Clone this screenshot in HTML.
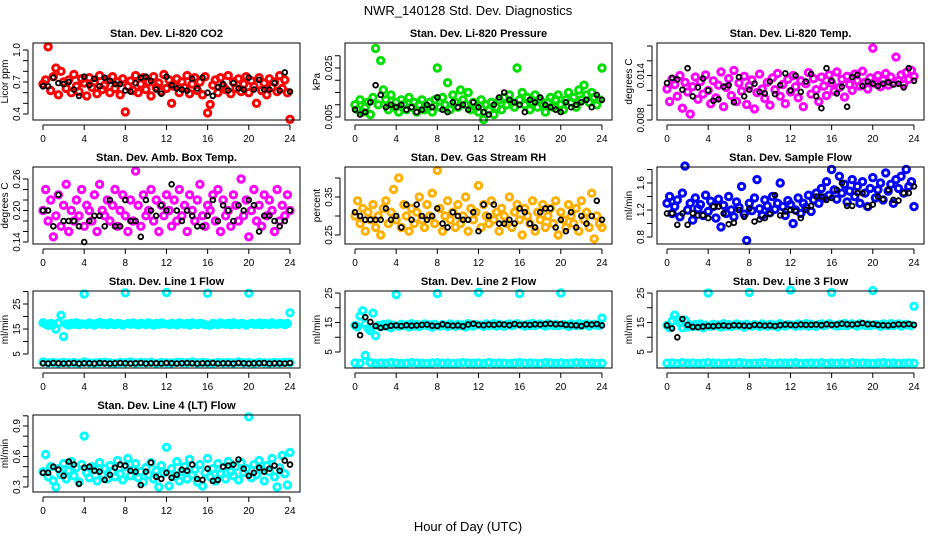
<!DOCTYPE html>
<html><head><meta charset="utf-8"><style>
body{margin:0;background:#fff}
svg{display:block;font-family:"Liberation Sans",sans-serif}
</style></head><body>
<svg id="c" width="936" height="540" viewBox="0 0 936 540">
<text x="468" y="15" text-anchor="middle" font-size="13">NWR_140128 Std. Dev. Diagnostics</text>
<text x="468" y="531" text-anchor="middle" font-size="13">Hour of Day (UTC)</text>
</svg>
<script>
const hourTicks=[0,4,8,12,16,20,24];
const r1=[0.68,0.72,1.03,0.62,0.75,0.83,0.58,0.80,0.70,0.64,0.72,0.60,0.77,0.66,0.61,0.73,0.69,0.57,0.74,0.65,0.70,0.59,0.76,0.63,0.67,0.72,0.60,0.75,0.64,0.70,0.58,0.73,0.42,0.66,0.71,0.62,0.76,0.60,0.68,0.74,0.63,0.70,0.57,0.75,0.65,0.69,0.61,0.77,0.64,0.72,0.50,0.66,0.73,0.60,0.70,0.65,0.76,0.59,0.68,0.74,0.62,0.70,0.58,0.75,0.41,0.49,0.67,0.72,0.60,0.74,0.66,0.63,0.76,0.59,0.70,0.64,0.73,0.61,0.68,0.75,0.60,0.71,0.66,0.50,0.74,0.62,0.69,0.58,0.73,0.65,0.70,0.61,0.76,0.64,0.72,0.60,0.35];
const k1=[0.66,0.66,0.74,0.69,0.68,0.70,0.63,0.57,0.75,0.67,0.73,0.66,0.74,0.71,0.68,0.68,0.62,0.61,0.69,0.74,0.75,0.71,0.63,0.59,0.75,0.67,0.64,0.63,0.62,0.73,0.64,0.74,0.60,0.57,0.65,0.68,0.62,0.69,0.64,0.63,0.74,0.63,0.72,0.63,0.63,0.69,0.62,0.79,0.61];
const g2=[0.010,0.008,0.012,0.007,0.009,0.011,0.006,0.013,0.033,0.010,0.028,0.016,0.012,0.008,0.014,0.009,0.011,0.007,0.012,0.010,0.008,0.013,0.009,0.011,0.007,0.010,0.012,0.008,0.009,0.011,0.007,0.012,0.025,0.009,0.013,0.010,0.019,0.008,0.014,0.011,0.009,0.016,0.012,0.010,0.015,0.008,0.011,0.009,0.007,0.012,0.004,0.010,0.008,0.011,0.006,0.009,0.012,0.008,0.013,0.010,0.014,0.011,0.009,0.025,0.012,0.015,0.010,0.013,0.008,0.011,0.014,0.009,0.012,0.010,0.007,0.011,0.013,0.009,0.012,0.014,0.010,0.008,0.012,0.015,0.011,0.013,0.009,0.016,0.012,0.018,0.014,0.011,0.015,0.013,0.010,0.012,0.025];
const k2=[0.008,0.006,0.007,0.011,0.018,0.014,0.009,0.010,0.009,0.010,0.008,0.009,0.007,0.008,0.010,0.009,0.013,0.008,0.007,0.011,0.009,0.010,0.008,0.011,0.009,0.007,0.006,0.010,0.013,0.015,0.012,0.011,0.010,0.007,0.012,0.011,0.013,0.010,0.009,0.008,0.007,0.011,0.009,0.010,0.011,0.012,0.009,0.014,0.012];
const m3=[0.0122,0.0105,0.0135,0.0128,0.0112,0.0140,0.0096,0.0131,0.0118,0.0088,0.0125,0.0138,0.0108,0.0132,0.0115,0.0141,0.0120,0.0102,0.0133,0.0110,0.0127,0.0145,0.0098,0.0124,0.0136,0.0113,0.0147,0.0105,0.0130,0.0119,0.0139,0.0101,0.0126,0.0134,0.0095,0.0117,0.0142,0.0122,0.0109,0.0131,0.0100,0.0137,0.0121,0.0143,0.0112,0.0128,0.0102,0.0135,0.0118,0.0140,0.0125,0.0110,0.0133,0.0098,0.0129,0.0144,0.0115,0.0136,0.0121,0.0105,0.0138,0.0126,0.0113,0.0141,0.0130,0.0119,0.0145,0.0124,0.0135,0.0111,0.0139,0.0128,0.0120,0.0142,0.0133,0.0126,0.0146,0.0131,0.0122,0.0137,0.0177,0.0129,0.0140,0.0125,0.0134,0.0143,0.0127,0.0138,0.0130,0.0165,0.0133,0.0141,0.0128,0.0144,0.0135,0.0147,0.0139];
const k3=[0.0130,0.0137,0.0135,0.0121,0.0150,0.0112,0.0124,0.0136,0.0120,0.0106,0.0108,0.0125,0.0127,0.0104,0.0138,0.0112,0.0121,0.0129,0.0118,0.0116,0.0132,0.0115,0.0127,0.0143,0.0120,0.0140,0.0118,0.0132,0.0142,0.0112,0.0096,0.0150,0.0133,0.0116,0.0125,0.0098,0.0138,0.0141,0.0126,0.0132,0.0129,0.0126,0.0129,0.0131,0.0128,0.0129,0.0124,0.0150,0.0133];
const m4=[0.20,0.24,0.18,0.22,0.15,0.19,0.23,0.17,0.21,0.25,0.16,0.20,0.18,0.22,0.19,0.24,0.17,0.21,0.20,0.18,0.23,0.16,0.25,0.20,0.19,0.22,0.18,0.21,0.24,0.17,0.20,0.23,0.19,0.16,0.22,0.18,0.275,0.21,0.17,0.23,0.19,0.20,0.24,0.18,0.22,0.16,0.21,0.19,0.23,0.20,0.17,0.22,0.18,0.24,0.19,0.21,0.16,0.23,0.20,0.18,0.22,0.25,0.19,0.17,0.21,0.20,0.23,0.18,0.24,0.16,0.22,0.19,0.20,0.17,0.23,0.21,0.18,0.26,0.19,0.22,0.15,0.20,0.24,0.18,0.21,0.17,0.23,0.19,0.22,0.20,0.16,0.24,0.18,0.21,0.19,0.23,0.20];
const k4=[0.20,0.20,0.17,0.23,0.18,0.18,0.18,0.17,0.14,0.18,0.19,0.19,0.17,0.22,0.17,0.17,0.22,0.18,0.18,0.15,0.22,0.20,0.19,0.21,0.20,0.25,0.20,0.18,0.20,0.19,0.17,0.17,0.19,0.22,0.18,0.21,0.20,0.18,0.21,0.20,0.22,0.21,0.16,0.19,0.19,0.18,0.17,0.18,0.20];
const o5=[0.30,0.34,0.28,0.32,0.26,0.31,0.29,0.33,0.27,0.30,0.25,0.32,0.34,0.28,0.31,0.37,0.29,0.40,0.27,0.33,0.30,0.26,0.32,0.28,0.31,0.35,0.29,0.27,0.33,0.30,0.36,0.28,0.42,0.32,0.26,0.30,0.34,0.29,0.31,0.27,0.33,0.28,0.30,0.35,0.26,0.32,0.29,0.31,0.38,0.27,0.33,0.30,0.28,0.34,0.29,0.31,0.26,0.32,0.30,0.28,0.35,0.27,0.31,0.33,0.29,0.25,0.32,0.30,0.28,0.34,0.26,0.31,0.29,0.33,0.27,0.30,0.32,0.28,0.34,0.25,0.31,0.29,0.27,0.33,0.30,0.28,0.32,0.26,0.34,0.29,0.31,0.27,0.36,0.24,0.30,0.28,0.27];
const k5=[0.31,0.30,0.29,0.29,0.29,0.29,0.32,0.29,0.30,0.27,0.33,0.29,0.33,0.30,0.29,0.30,0.32,0.28,0.27,0.31,0.30,0.29,0.29,0.31,0.26,0.33,0.30,0.33,0.28,0.28,0.29,0.28,0.32,0.31,0.28,0.27,0.31,0.32,0.32,0.27,0.29,0.26,0.31,0.27,0.30,0.28,0.30,0.34,0.29];
const b6=[1.30,1.40,1.15,1.25,1.35,1.10,1.45,1.85,1.20,1.30,1.05,1.38,1.22,1.28,1.12,1.42,1.18,1.33,1.25,1.08,1.36,0.95,1.27,1.15,1.40,1.20,1.10,1.32,1.24,1.55,1.14,0.75,1.30,1.19,1.38,1.65,1.22,1.12,1.35,1.26,1.16,1.40,1.21,1.30,1.60,1.25,1.12,1.34,1.28,1.00,1.20,1.38,1.15,1.30,1.24,1.42,1.18,1.35,1.45,1.30,1.52,1.38,1.62,1.42,1.80,1.50,1.36,1.70,1.45,1.58,1.32,1.48,1.65,1.40,1.55,1.30,1.62,1.45,1.25,1.52,1.68,1.38,1.50,1.60,1.35,1.75,1.48,1.58,1.30,1.65,1.52,1.70,1.45,1.80,1.55,1.62,1.25];
const k6=[1.15,1.15,0.98,1.15,0.98,1.15,1.12,1.12,1.08,1.25,1.25,1.15,0.99,1.01,1.20,1.10,1.22,1.03,1.06,1.08,1.14,1.42,1.12,1.18,1.20,1.18,1.08,1.20,1.26,1.40,1.40,1.35,1.38,1.50,1.60,1.26,1.26,1.45,1.45,1.25,1.28,1.40,1.36,1.50,1.35,1.34,1.45,1.45,1.55];
const c7=[17.5,17,16.5,17.2,16.8,15,17.4,20.5,12,17,16.6,17.3,16.9,17.5,16.7,17.1,29,16.8,17.4,17,16.6,17.3,17.6,16.9,17.2,16.7,17.5,17,16.8,17.3,17.1,16.6,29.5,17.2,16.9,17.4,17,16.7,17.3,17.1,16.8,17.5,17,16.6,17.2,16.9,17.4,17.1,29.6,16.8,17.3,17,16.7,17.5,17.1,16.9,17.2,16.6,17.4,17,16.8,17.3,17.1,16.7,29.3,16.5,17.2,17,16.8,17.4,17.1,16.9,17.3,16.7,17.5,17,16.8,17.2,17.1,16.6,29.3,17.3,17,16.9,17.4,16.7,17.2,17.1,16.8,17.5,17,16.9,17.3,17.1,16.8,17.2,21.5];
const cl7=[1.8,1.5,1.6,1.4,1.7,1.5,1.6,1.3,1.8,1.5,1.4,1.6,1.7,1.5,1.3,1.6,1.5,1.8,1.4,1.6,1.5,1.7,1.3,1.6,1.5,1.4,1.7,1.6,1.5,1.8,1.4,1.6,1.5,1.3,1.7,1.5,1.6,1.4,1.8,1.5,1.6,1.3,1.7,1.5,1.4,1.6,1.5,1.7,1.6];
const k7=[1.3,1.2,1.4,1.3,1.2,1.3,1.4,1.2,1.3,1.3,1.2,1.4,1.3,1.2,1.3,1.4,1.3,1.2,1.3,1.4,1.2,1.3,1.3,1.2,1.4,1.3,1.2,1.3,1.4,1.3,1.2,1.3,1.3,1.4,1.2,1.3,1.3,1.2,1.4,1.3,1.2,1.3,1.3,1.4,1.2,1.3,1.3,1.2,1.4];
const c8=[14,13.5,17.2,19,14.5,13,12.2,18.2,10.5,14,13.6,14.3,13.8,14.5,13.2,14.1,24.5,13.7,14.4,13.9,14.2,13.5,14.6,13.8,14.3,13.6,14.1,14.5,13.9,14.2,13.4,14.4,24.8,13.8,14.3,14,13.6,14.5,14.1,13.7,14.4,13.9,14.2,13.5,14.6,14,13.8,14.3,25.2,14.1,13.7,14.5,13.9,14.2,14.6,13.8,14.4,14,13.7,14.3,14.5,13.9,14.2,14.6,24.8,14.1,13.8,14.4,14,14.7,13.9,14.3,14.5,14.1,13.8,14.6,14.2,14,14.4,13.9,25,14.3,14.1,13.7,14.5,14.2,13.9,14.6,14,14.3,14.5,13.8,14.2,14.4,14.1,14,16.5];
const cl8=[1.3,1.2,3.8,1.4,1.1,1.3,1.2,1.4,1.3,1.1,1.2,1.4,1.3,1.2,1.1,1.3,1.4,1.2,1.3,1.1,1.2,1.4,1.3,1.2,1.3,1.1,1.4,1.2,1.3,1.2,1.1,1.3,1.4,1.2,1.3,1.2,1.1,1.4,1.3,1.2,1.3,1.1,1.2,1.4,1.3,1.2,1.3,1.1,1.2];
const k8=[14,10.7,16.8,15.2,13.8,13.2,13.5,13.9,14,13.8,14.1,13.9,14,14.2,14.3,13.9,13.8,14.4,14.1,13.9,14,13.7,14.3,14.6,14.2,14.1,14.3,14.2,14.4,14.3,14.1,14.5,14.2,14.3,14.2,14.4,14.3,14.5,14.6,14.4,14.5,14.2,14.1,14,13.8,14.4,14.3,14.5,14];
const c9=[14,13.2,15.5,17.5,16,14.8,13.2,15.8,13.5,14.2,13.6,14.3,13.8,14.5,13.2,14.1,25,13.7,14.4,13.9,14.2,13.5,14.6,13.8,14.3,13.6,14.1,14.5,13.9,14.2,13.4,14.4,25.2,13.8,14.3,14,13.6,14.5,14.1,13.7,14.4,13.9,14.2,13.5,14.6,14,13.8,14.3,26,14.1,13.7,14.5,13.9,14.2,14.6,13.8,14.4,14,13.7,14.3,14.5,13.9,14.2,14.6,25.2,14.1,13.8,14.4,14,14.7,13.9,14.3,14.5,14.1,13.8,14.6,14.2,14,14.4,13.9,25.8,14.3,14.1,13.7,14.5,14.2,13.9,14.6,14,14.3,14.5,13.8,14.2,14.4,14.1,14,20.5];
const cl9=[1.2,1.3,1.1,1.4,1.2,1.3,1.1,1.2,1.4,1.3,1.2,1.1,1.3,1.2,1.4,1.3,1.1,1.2,1.3,1.4,1.2,1.1,1.3,1.2,1.3,1.4,1.1,1.2,1.3,1.2,1.4,1.1,1.3,1.2,1.3,1.1,1.4,1.2,1.3,1.2,1.1,1.3,1.4,1.2,1.3,1.1,1.2,1.3,1.2];
const k9=[14,13,10,16.2,14.2,13.5,13.4,13.6,13.8,13.7,13.9,14,13.8,14.1,14,13.9,13.8,14.2,14.1,13.9,14,13.8,14.1,14.3,14.2,14.1,14.3,14.2,14.2,14.3,14.1,14.4,14.2,14.3,14.6,14.4,14.3,14.5,14.8,14.4,14.5,14.2,14.1,14,14.2,14.4,14.3,14.5,14.2];
const c10=[0.45,0.62,0.40,0.50,0.36,0.30,0.48,0.42,0.53,0.38,0.46,0.55,0.41,0.49,0.35,0.52,0.80,0.44,0.39,0.50,0.47,0.36,0.54,0.42,0.48,0.38,0.51,0.45,0.40,0.56,0.43,0.37,0.50,0.58,0.41,0.47,0.53,0.39,0.45,0.35,0.49,0.42,0.54,0.38,0.46,0.30,0.51,0.44,0.69,0.31,0.48,0.40,0.55,0.36,0.45,0.50,0.38,0.57,0.42,0.47,0.35,0.52,0.31,0.44,0.58,0.40,0.48,0.36,0.53,0.43,0.49,0.38,0.55,0.45,0.41,0.50,0.37,0.54,0.44,0.48,0.99,0.39,0.52,0.42,0.56,0.47,0.36,0.51,0.45,0.58,0.40,0.30,0.49,0.61,0.43,0.32,0.64];
const k10=[0.44,0.44,0.50,0.47,0.41,0.55,0.52,0.33,0.49,0.50,0.46,0.45,0.37,0.42,0.49,0.52,0.51,0.46,0.45,0.32,0.45,0.54,0.40,0.38,0.44,0.39,0.42,0.47,0.46,0.52,0.38,0.37,0.48,0.36,0.37,0.50,0.51,0.52,0.57,0.48,0.41,0.44,0.49,0.45,0.48,0.51,0.46,0.56,0.52];

const panels=[
 {t:"Stan. Dev. Li-820 CO2",yl:"Licor ppm",c:0,r:0,v0:0.4,p0:114,s:106.7,ticks:[0.4,0.5,0.6,0.7,0.8,0.9,1.0],labs:["0.4","0.7","1.0"],ser:[[r1,"#ff0000"],[k1,"#000"]]},
 {t:"Stan. Dev. Li-820 Pressure",yl:"kPa",c:1,r:0,v0:0.005,p0:117,s:2450,ticks:[0.005,0.010,0.015,0.020,0.025,0.030],labs:["0.005","0.025"],ser:[[g2,"#00e000"],[k2,"#000"]]},
 {t:"Stan. Dev. Li-820 Temp.",yl:"degrees C",c:2,r:0,v0:0.008,p0:120,s:7400,ticks:[0.008,0.010,0.012,0.014,0.016,0.018],labs:["0.008","0.014"],ser:[[m3,"#ff00ff"],[k3,"#000"]]},
 {t:"Stan. Dev. Amb. Box Temp.",yl:"degrees C",c:0,r:1,v0:0.14,p0:242,s:525,ticks:[0.14,0.16,0.18,0.20,0.22,0.24,0.26],labs:["0.14","0.20","0.26"],ser:[[m4,"#ff00ff"],[k4,"#000"]]},
 {t:"Stan. Dev. Gas Stream RH",yl:"percent",c:1,r:1,v0:0.25,p0:235,s:380,ticks:[0.25,0.30,0.35,0.40],labs:["0.25","0.35"],ser:[[o5,"#ffb000"],[k5,"#000"]]},
 {t:"Stan. Dev. Sample Flow",yl:"ml/min",c:2,r:1,v0:0.8,p0:237,s:67.5,ticks:[0.8,1.0,1.2,1.4,1.6,1.8],labs:["0.8","1.2","1.6"],ser:[[b6,"#0000ff"],[k6,"#000"]]},
 {t:"Stan. Dev. Line 1 Flow",yl:"ml/min",c:0,r:2,v0:5,p0:354,s:2.5,ticks:[5,10,15,20,25,30],labs:["5","15","25"],ser:[[c7,"#00ffff"],[cl7,"#00ffff"],[k7,"#000"]]},
 {t:"Stan. Dev. Line 2 Flow",yl:"ml/min",c:1,r:2,v0:5,p0:352,s:2.95,ticks:[5,10,15,20,25],labs:["5","15","25"],ser:[[c8,"#00ffff"],[cl8,"#00ffff"],[k8,"#000"]]},
 {t:"Stan. Dev. Line 3 Flow",yl:"ml/min",c:2,r:2,v0:5,p0:352,s:2.95,ticks:[5,10,15,20,25],labs:["5","15","25"],ser:[[c9,"#00ffff"],[cl9,"#00ffff"],[k9,"#000"]]},
 {t:"Stan. Dev. Line 4 (LT) Flow",yl:"ml/min",c:0,r:3,v0:0.3,p0:487,s:101.7,ticks:[0.3,0.4,0.5,0.6,0.7,0.8,0.9,1.0],labs:["0.3","0.6","0.9"],ser:[[c10,"#00ffff"],[k10,"#000"]]}
];
const svg=document.getElementById('c');
const NS="http://www.w3.org/2000/svg";
function mk(tag,attrs,parent){const e=document.createElementNS(NS,tag);for(const k in attrs)e.setAttribute(k,attrs[k]);parent.appendChild(e);return e;}
panels.forEach((P,pi)=>{
  const L=33+312*P.c, T=43+124*P.r, W=267, H=77;
  const g=mk('g',{},svg);
  
  
  const xs=h=>L+10+h*10.29;
  const ys=v=>P.p0-(v-P.v0)*P.s;
  const ti=mk('text',{x:L+W/2,y:T-6,'text-anchor':'middle','font-size':11,'font-weight':'bold'},g);
  ti.textContent=P.t;
  
  
  const ax=mk('g',{},g);
  
  
  mk('line',{x1:xs(hourTicks[0]),x2:xs(hourTicks[hourTicks.length-1]),y1:T+H+5,y2:T+H+5,stroke:'#000'},ax);
  hourTicks.forEach(h=>{
    mk('line',{x1:xs(h),x2:xs(h),y1:T+H+5,y2:T+H+10,stroke:'#000'},ax);
    const tx=mk('text',{x:xs(h),y:T+H+22,'text-anchor':'middle','font-size':10},ax);
    tx.textContent=String(h);
  });
  const ay=mk('g',{},g);
  
  
  mk('line',{x1:L-5,x2:L-5,y1:ys(P.ticks[0]),y2:ys(P.ticks[P.ticks.length-1]),stroke:'#000'},ay);
  P.ticks.forEach(v=>mk('line',{x1:L-10,x2:L-5,y1:ys(v),y2:ys(v),stroke:'#000'},ay));
  P.labs.forEach(lb=>{
    const y=ys(parseFloat(lb));
    const tx=mk('text',{x:L-13,y:y,'text-anchor':'middle','font-size':10,transform:`rotate(-90 ${L-13} ${y})`},ay);
    tx.textContent=lb;
  });
  const yt=mk('text',{x:L-25,y:T+H/2,'text-anchor':'middle','font-size':10,transform:`rotate(-90 ${L-25} ${T+H/2})`},g);
  yt.textContent=P.yl;
  
  
  P.ser.forEach((S,si)=>{
    const arr=S[0], col=S[1], n=arr.length, blk=col==="#000";
    const sg=mk('g',{fill:'none',stroke:col,'stroke-width':blk?1.8:3},g);
    
    
    arr.forEach((v,i)=>{
      const h=i*24/(n-1);
      const c=mk('circle',{cx:xs(h).toFixed(1),cy:ys(v).toFixed(1),r:blk?2.4:3.2},sg);
      
      
    });
  });
  const box=mk('rect',{x:L,y:T,width:W,height:H,fill:'none',stroke:'#000','stroke-width':1},g);
  
  
});
</script>
</body></html>
